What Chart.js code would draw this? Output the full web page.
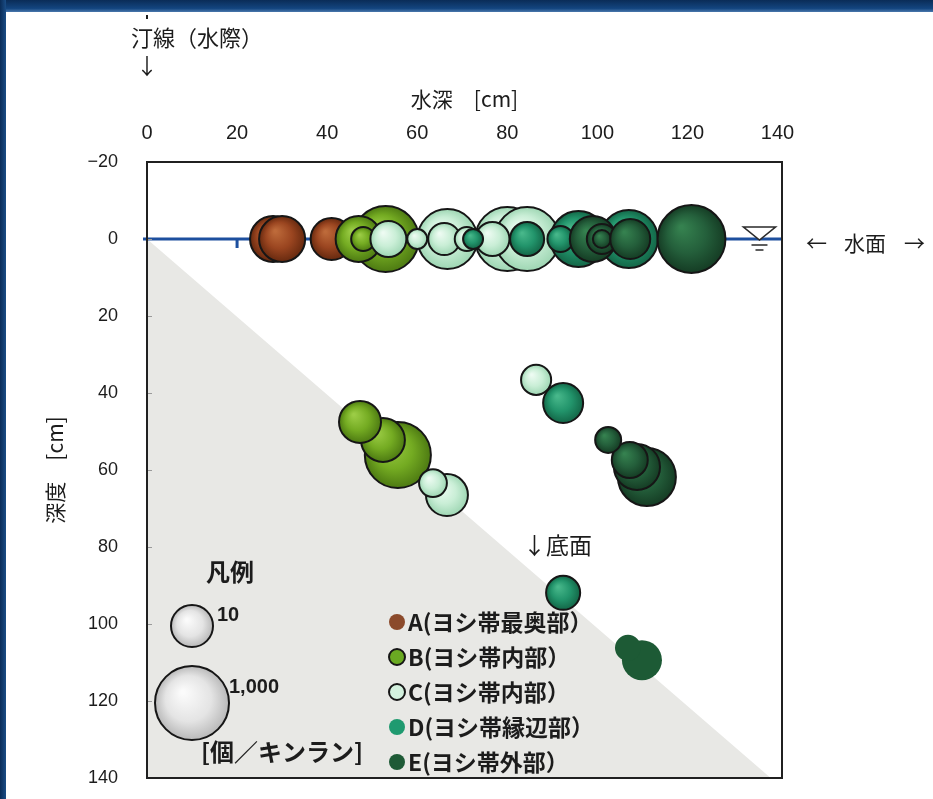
<!DOCTYPE html>
<html lang="ja">
<head>
<meta charset="utf-8">
<title>水深と深度の分布</title>
<script src="https://cdn.jsdelivr.net/npm/chart.js@4.4.1/dist/chart.umd.min.js"></script>
<style>
html,body{margin:0;padding:0;background:#fff;}
#wrap{position:relative;width:933px;height:799px;overflow:hidden;background:#fff;}
#bandTop{position:absolute;left:0;top:0;width:933px;height:12px;background:linear-gradient(#0a2c57,#13457f 70%,#4a78ad);}
#bandLeft{position:absolute;left:0;top:0;width:6px;height:799px;background:linear-gradient(90deg,#0a2c57,#1a4d86);}
canvas{position:absolute;left:0;top:0;}
</style>
</head>
<body>
<div id="wrap"><div id="bandTop"></div><div id="bandLeft"></div><canvas id="c" width="933" height="799"></canvas></div>
<script>
// 目盛: 水深 [cm] (上の横軸) と 深度 [cm] (縦軸, 下向き)
const xTicks = [0, 20, 40, 60, 80, 100, 120, 140];
const yTicks = [-20, 0, 20, 40, 60, 80, 100, 120, 140];

// 地点ごとの値: 水深 x [cm], 深度 y [cm], 個体数 n [個／キンラン]
const aX = [28, 30, 41];
const aY = [0, 0, 0];
const aN = [18, 18, 10];

const bX = [53, 47, 48, 55.7, 52.4, 47.3];
const bY = [0, 0, 0, 56.1, 52.2, 47.5];
const bN = [320, 18, 0.75, 320, 13, 10];

const cX = [66.7, 80, 84.4, 53.6, 60, 66, 71, 76.7, 86.4, 66.6, 63.5];
const cY = [0, 0, 0, 0, 0, 0, 0, 0, 36.6, 66.5, 63.4];
const cN = [130, 240, 240, 4.2, 0.42, 2.4, 0.75, 3.2, 1.8, 10, 1.3];

const dX = [95.8, 107, 91.8, 84.4, 72.4, 92.4, 92.4];
const dY = [0, 0, 0, 0, 0, 42.6, 91.9];
const dN = [75, 100, 1, 3.2, 0.42, 7.5, 3.2];

const eX = [120.9, 99, 101, 101, 107.3, 111, 108.8, 107.2, 102.4, 109.9, 106.8];
const eY = [0, 0, 0, 0, 0, 61.8, 59.2, 57.4, 52.2, 109.4, 106.2];
const eN = [420, 18, 1.8, 0.32, 7.5, 100, 18, 4.2, 1, 7.5, 1];

// 凡例の基準値 [個／キンラン]
const sizeLegend = [10, 1000];

// 系列名
const seriesNames = ['A(ヨシ帯最奥部）', 'B(ヨシ帯内部）', 'C(ヨシ帯内部）', 'D(ヨシ帯縁辺部）', 'E(ヨシ帯外部）'];

// 水面と底面
const surfaceX = [0, 141];
const surfaceY = [0, 0];
const bottomX = [0, 138.5];
const bottomY = [0, 140];

// ---- 描画設定 ----
const X_MAX = 141, Y_MIN = -20, Y_MAX = 140;
const JP = '"Noto Sans CJK JP", "Noto Sans", sans-serif';
const NUM = '"Liberation Sans Narrow", "Liberation Sans", Arial, sans-serif';
const INK = '#1c1c1c';

// 個体数から円の半径 (px) へ
const radiusOf = n => 13 + 8 * Math.log10(n);

const palette = {
  A: { base: '#9a4520', light: '#bd6a3a', dark: '#66290f', key: '#8b4a2b' },
  B: { base: '#74ab22', light: '#9bcc45', dark: '#4d7a12', key: '#6aaa22' },
  C: { base: '#c9eed6', light: '#edfbf2', dark: '#9ed6b3', key: '#d3f1de' },
  D: { base: '#22946b', light: '#47b78a', dark: '#136647', key: '#1f9a70' },
  E: { base: '#245f3b', light: '#35814f', dark: '#153c24', key: '#1e5a36' }
};
// 枠線なしで描く E 系列の点 (底面付近)
const eFlat = [9, 10];

function shaded(p) {
  return ctx => {
    if (ctx.type !== 'data' || !ctx.raw) return p.base;
    const ch = ctx.chart;
    const x = ch.scales.x.getPixelForValue(ctx.raw.x);
    const y = ch.scales.y.getPixelForValue(ctx.raw.y);
    const r = Math.max(ctx.raw.r, 1);
    if (!isFinite(x) || !isFinite(y) || !isFinite(r)) return p.base;
    const g = ch.ctx.createRadialGradient(x - r * 0.3, y - r * 0.35, r * 0.05, x, y, r);
    g.addColorStop(0, p.light);
    g.addColorStop(0.55, p.base);
    g.addColorStop(1, p.dark);
    return g;
  };
}

function points(xs, ys, ns) {
  return xs.map((x, i) => ({ x, y: ys[i], r: radiusOf(ns[i]) }));
}

function bubbleSet(label, xs, ys, ns, p, order, extra) {
  return Object.assign({
    type: 'bubble', label, order,
    data: points(xs, ys, ns),
    backgroundColor: shaded(p),
    borderColor: '#161616',
    borderWidth: 2,
    hoverBorderWidth: 2
  }, extra || {});
}

const datasets = [
  {
    type: 'line', label: '底面', order: 20,
    data: bottomX.map((x, i) => ({ x, y: bottomY[i] })),
    fill: { value: Y_MAX },
    backgroundColor: '#e8e8e5',
    borderWidth: 0, pointRadius: 0
  },
  {
    type: 'line', label: '水面', order: 19,
    data: surfaceX.map((x, i) => ({ x, y: surfaceY[i] })),
    fill: false,
    borderColor: '#1d4f9e',
    borderWidth: 3, pointRadius: 0
  },
  bubbleSet(seriesNames[0], aX, aY, aN, palette.A, 5),
  bubbleSet(seriesNames[1], bX, bY, bN, palette.B, 4),
  bubbleSet(seriesNames[2], cX, cY, cN, palette.C, 3),
  bubbleSet(seriesNames[3], dX, dY, dN, palette.D, 2),
  bubbleSet(seriesNames[4], eX, eY, eN, palette.E, 1, {
    backgroundColor: ctx => eFlat.includes(ctx.dataIndex) ? '#1d5a35' : shaded(palette.E)(ctx),
    borderWidth: ctx => eFlat.includes(ctx.dataIndex) ? 0 : 2
  })
];

// 枠・水面記号・注記・凡例
const decorations = {
  id: 'decorations',
  afterDatasetsDraw(chart) {
    const { ctx, chartArea: ca, scales } = chart;
    const sx = scales.x, sy = scales.y;
    const y0 = sy.getPixelForValue(0);
    ctx.save();

    // 水面線の小さな目印
    ctx.strokeStyle = '#1d4f9e';
    ctx.lineWidth = 3;
    ctx.beginPath();
    ctx.moveTo(sx.getPixelForValue(20), y0);
    ctx.lineTo(sx.getPixelForValue(20), y0 + 9);
    ctx.moveTo(ca.left - 4, y0);
    ctx.lineTo(ca.left, y0);
    ctx.stroke();

    // 縦軸の目盛線 (内側)
    ctx.strokeStyle = '#9a9a9a';
    ctx.lineWidth = 1;
    ctx.beginPath();
    yTicks.forEach(v => {
      const py = Math.round(sy.getPixelForValue(v)) + 0.5;
      ctx.moveTo(ca.left, py);
      ctx.lineTo(ca.left + 5, py);
    });
    ctx.stroke();

    // プロット枠
    ctx.strokeStyle = '#202020';
    ctx.lineWidth = 2;
    ctx.strokeRect(ca.left, ca.top, ca.right - ca.left, ca.bottom - ca.top);

    // 水位記号 ▽
    const wx = sx.getPixelForValue(136);
    ctx.strokeStyle = '#2a2a2a';
    ctx.fillStyle = '#ffffff';
    ctx.lineWidth = 1.6;
    ctx.beginPath();
    ctx.moveTo(wx - 16, y0 - 12);
    ctx.lineTo(wx + 16, y0 - 12);
    ctx.lineTo(wx, y0 + 1);
    ctx.closePath();
    ctx.fill();
    ctx.stroke();
    ctx.beginPath();
    ctx.moveTo(wx - 8, y0 + 6); ctx.lineTo(wx + 8, y0 + 6);
    ctx.moveTo(wx - 4, y0 + 11); ctx.lineTo(wx + 4, y0 + 11);
    ctx.stroke();

    // 注記
    ctx.fillStyle = INK;
    ctx.textBaseline = 'middle';
    ctx.textAlign = 'left';
    ctx.font = '22px ' + JP;
    ctx.fillText('汀線（水際）', 131, 38);
    ctx.fillRect(sx.getPixelForValue(0) - 1, 15, 2, 4);
    ctx.textAlign = 'center';
    ctx.fillText('↓', sx.getPixelForValue(0), 66);
    ctx.textAlign = 'left';
    ctx.font = '21px ' + JP;
    ctx.fillText('←', 806, 243);
    ctx.fillText('水面', 844, 243);
    ctx.fillText('→', 904, 243);
    ctx.font = '23px ' + JP;
    ctx.fillText('↓底面', 523, 545);

    // サイズ凡例
    ctx.font = 'bold 24px ' + JP;
    ctx.fillText('凡例', 206, 572);
    const lx = 192;
    const ly = [626, 703];
    sizeLegend.forEach((n, i) => {
      const r = radiusOf(n);
      const g = ctx.createRadialGradient(lx - r * 0.25, ly[i] - r * 0.3, r * 0.05, lx, ly[i], r);
      g.addColorStop(0, '#fbfbfb');
      g.addColorStop(0.6, '#e4e4e4');
      g.addColorStop(1, '#b9b9b9');
      ctx.beginPath();
      ctx.arc(lx, ly[i], r, 0, Math.PI * 2);
      ctx.fillStyle = g;
      ctx.fill();
      ctx.strokeStyle = '#161616';
      ctx.lineWidth = 2;
      ctx.stroke();
    });
    ctx.fillStyle = INK;
    ctx.font = 'bold 20px "Liberation Sans", Arial, sans-serif';
    ctx.fillText('10', 217, 615);
    ctx.fillText('1,000', 229, 687);
    ctx.font = 'bold 24px ' + JP;
    ctx.fillText('[個／キンラン]', 201, 752);

    // 系列凡例
    const keys = ['A', 'B', 'C', 'D', 'E'];
    const ky = [622, 657, 692, 727, 762];
    ctx.font = 'bold 23px ' + JP;
    keys.forEach((k, i) => {
      ctx.beginPath();
      ctx.arc(397, ky[i], 8, 0, Math.PI * 2);
      ctx.fillStyle = palette[k].key;
      ctx.fill();
      if (k === 'B' || k === 'C') {
        ctx.strokeStyle = '#161616';
        ctx.lineWidth = 2;
        ctx.stroke();
      }
      ctx.fillStyle = INK;
      ctx.fillText(seriesNames[i], 408, ky[i]);
    });

    ctx.restore();
  }
};

new Chart(document.getElementById('c'), {
  type: 'bubble',
  data: { datasets },
  options: {
    responsive: false,
    animation: false,
    events: [],
    layout: { autoPadding: false, padding: { left: 0, top: 0, right: 151, bottom: 21 } },
    plugins: { legend: { display: false }, tooltip: { enabled: false } },
    scales: {
      x: {
        type: 'linear', position: 'top',
        min: 0, max: X_MAX,
        afterBuildTicks: s => { s.ticks = xTicks.map(v => ({ value: v })); },
        afterFit: s => { s.height = 162; },
        grid: { display: false, drawTicks: true, tickLength: 17 },
        border: { display: false },
        ticks: { padding: 0, color: INK, font: { family: NUM, size: 20 } },
        title: { display: true, text: '水深　[cm]', color: INK, padding: { top: 86, bottom: 0 }, font: { family: JP, size: 21 } }
      },
      y: {
        type: 'linear', reverse: true,
        min: Y_MIN, max: Y_MAX,
        afterBuildTicks: s => { s.ticks = yTicks.map(v => ({ value: v })); },
        afterFit: s => { s.width = 147; },
        grid: { display: false, drawTicks: true, tickLength: 29 },
        border: { display: false },
        ticks: {
          padding: 0, color: INK,
          font: { family: '"Liberation Sans", Arial, sans-serif', size: 18 },
          callback: v => (v < 0 ? '−' + Math.abs(v) : String(v))
        },
        title: { display: true, text: '深度　[cm]', color: INK, padding: { top: 42, bottom: 0 }, font: { family: JP, size: 21 } }
      }
    }
  },
  plugins: [decorations]
});
</script>
</body>
</html>
